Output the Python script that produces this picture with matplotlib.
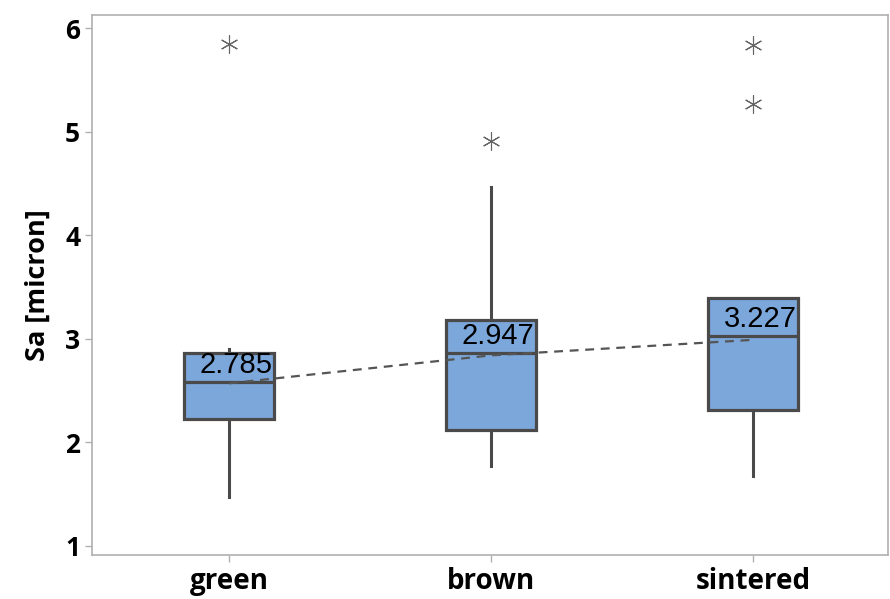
import numpy as np
import matplotlib
matplotlib.use("Agg")
import matplotlib.pyplot as plt


# values
categories = ["green", "brown", "sintered"]
q1 = [2.23, 2.12, 2.31]
median = [2.58, 2.86, 3.03]
q3 = [2.86, 3.18, 3.39]
whisker_low = [1.47, 1.77, 1.68]
whisker_high = [2.90, 4.47, 3.39]
outliers = [[5.85], [4.91], [5.84, 5.27]]
trend = [2.57, 2.84, 2.99]
mean_labels = ["2.785", "2.947", "3.227"]

BOX_COLOR = "#7ba7db"
EDGE_COLOR = "#4a4a4a"


def main():
    plt.rcParams['font.family'] = ['Open Sans', 'DejaVu Sans']
    fig = plt.figure(figsize=(8.9, 5.99), dpi=100)
    ax = fig.add_axes([0.1034, 0.0735, 0.8946, 0.9015])

    stats = []
    for i in range(len(categories)):
        stats.append({
            "q1": q1[i], "med": median[i], "q3": q3[i],
            "whislo": whisker_low[i], "whishi": whisker_high[i],
            "fliers": outliers[i], "label": categories[i],
        })

    pos = np.arange(1, len(categories) + 1)
    ax.bxp(stats, positions=pos, widths=0.345, patch_artist=True, showcaps=False,
           boxprops=dict(facecolor=BOX_COLOR, edgecolor=EDGE_COLOR, linewidth=2.3),
           medianprops=dict(color=EDGE_COLOR, linewidth=2.3),
           whiskerprops=dict(color=EDGE_COLOR, linewidth=2.2),
           flierprops=dict(marker=(6, 2, 0), markersize=13, markeredgecolor="#666666",
                           markeredgewidth=0.8, markerfacecolor="none"))

    ax.plot(pos, trend, linestyle=(0, (4, 3)), color="#555555", linewidth=1.6, zorder=5)

    for x, m, lab in zip(pos, median, mean_labels):
        ax.text(x + 0.165, m + 0.03, lab, ha="right", va="bottom",
                fontsize=21, family=["Liberation Sans"], color="black", zorder=6)

    ax.set_xlim(0.477, 3.515)
    ax.set_ylim(0.913, 6.126)
    ax.set_xticks(pos)
    ax.set_xticklabels(categories, fontsize=20, fontweight="bold")
    ax.set_yticks([1, 2, 3, 4, 5, 6])
    ax.set_yticklabels(["1", "2", "3", "4", "5", "6"], fontsize=19, fontweight="bold")
    ax.set_ylabel("Sa [micron]", fontsize=19.5, fontweight="bold", labelpad=10)

    for s in ax.spines.values():
        s.set_color("#b0b0b0")
        s.set_linewidth(1.2)
    ax.tick_params(axis="both", color="#b0b0b0", length=5, width=1)

    fig.savefig("out.png", dpi=100)


if __name__ == "__main__":
    main()
